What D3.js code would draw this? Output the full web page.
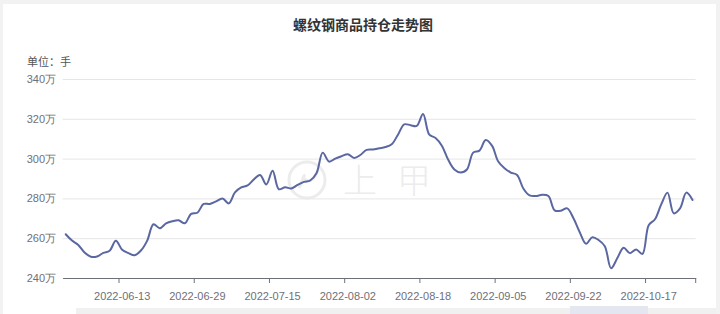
<!DOCTYPE html>
<html>
<head>
<meta charset="utf-8">
<script src="https://cdn.jsdelivr.net/npm/d3@7"></script>
<style>
  html, body { margin: 0; padding: 0; background: #f2f2f2; }
  svg { display: block; font-family: "Noto Sans CJK SC", "Noto Sans", sans-serif; }
</style>
</head>
<body>
<div class="box"></div>
<script>
// trading days (category axis)
const dates = [
  '2022-05-30','2022-05-31',
  '2022-06-01','2022-06-02','2022-06-06','2022-06-07','2022-06-08','2022-06-09','2022-06-10',
  '2022-06-13','2022-06-14','2022-06-15','2022-06-16','2022-06-17','2022-06-20','2022-06-21',
  '2022-06-22','2022-06-23','2022-06-24','2022-06-27','2022-06-28','2022-06-29','2022-06-30',
  '2022-07-01','2022-07-04','2022-07-05','2022-07-06','2022-07-07','2022-07-08','2022-07-11',
  '2022-07-12','2022-07-13','2022-07-14','2022-07-15','2022-07-18','2022-07-19','2022-07-20',
  '2022-07-21','2022-07-22','2022-07-25','2022-07-26','2022-07-27','2022-07-28','2022-07-29',
  '2022-08-01','2022-08-02','2022-08-03','2022-08-04','2022-08-05','2022-08-08','2022-08-09',
  '2022-08-10','2022-08-11','2022-08-12','2022-08-15','2022-08-16','2022-08-17','2022-08-18',
  '2022-08-19','2022-08-22','2022-08-23','2022-08-24','2022-08-25','2022-08-26','2022-08-29',
  '2022-08-30','2022-08-31','2022-09-01','2022-09-02','2022-09-05','2022-09-06','2022-09-07',
  '2022-09-08','2022-09-09','2022-09-13','2022-09-14','2022-09-15','2022-09-16','2022-09-19',
  '2022-09-20','2022-09-21','2022-09-22','2022-09-23','2022-09-26','2022-09-27','2022-09-28',
  '2022-09-29','2022-09-30','2022-10-10','2022-10-11','2022-10-12','2022-10-13','2022-10-14',
  '2022-10-17','2022-10-18','2022-10-19','2022-10-20','2022-10-21','2022-10-24','2022-10-25',
  '2022-10-26'
];

// 持仓 (万手)
const holdings = [
  262.0, 258.8, 256.6, 252.8, 250.7, 250.8, 252.6, 253.7, 258.7, 254.2,
  252.5, 251.4, 253.8, 258.8, 267.0, 265.0, 267.4, 268.5, 269.0, 267.5,
  272.2, 272.8, 277.2, 277.2, 278.5, 280.0, 277.5, 283.0, 285.5, 286.5,
  289.5, 291.8, 287.0, 293.9, 284.6, 285.6, 285.0, 286.8, 288.3, 289.0,
  292.6, 303.0, 298.5, 300.0, 301.2, 302.2, 300.3, 301.8, 304.4, 304.6,
  305.2, 305.8, 307.2, 312.0, 317.2, 316.8, 316.4, 322.4, 312.0, 310.4,
  306.5, 299.5, 294.5, 293.0, 294.5, 303.0, 304.0, 309.3, 306.5, 298.5,
  295.2, 293.0, 291.8, 285.0, 281.5, 281.2, 281.8, 281.2, 274.0, 273.8,
  275.0, 270.0, 263.0, 257.2, 260.5, 259.1, 256.0, 244.9, 250.0, 255.2,
  252.5, 254.3, 252.1, 266.5, 269.5, 277.0, 282.9, 272.5, 275.0, 282.9,
  279.2
];

const xLabels = ['2022-06-13','2022-06-29','2022-07-15','2022-08-02','2022-08-18','2022-09-05','2022-09-22','2022-10-17'];
const yTicks = [240, 260, 280, 300, 320, 340];

const svg = d3.select('.box')
              .append('svg')
              .attr('width', 720)
              .attr('height', 314);

// white card + bits of the next block at the bottom
svg.append('rect').attr('x', 3).attr('y', 4).attr('width', 713).attr('height', 310).attr('fill', '#fff');
svg.append('rect').attr('x', 76).attr('y', 308).attr('width', 640).attr('height', 6).attr('fill', '#f0f0f0');
svg.append('rect').attr('x', 570).attr('y', 306).attr('width', 78).attr('height', 8).attr('fill', '#e4e7ef');

const x = d3.scaleBand()
            .domain(dates)
            .range([62.6, 695.7])
            .padding(0);

const y = d3.scaleLinear()
            .domain([240, 340])
            .range([278, 79]);

// title
svg.append('text')
   .attr('x', 363).attr('y', 30)
   .attr('text-anchor', 'middle')
   .style('font-size', '14px').style('font-weight', 'bold')
   .attr('fill', '#333')
   .text('螺纹钢商品持仓走势图');

svg.append('text')
   .attr('x', 27).attr('y', 66)
   .style('font-size', '11px')
   .attr('fill', '#555')
   .text('单位：手');

// watermark
const wm = svg.append('g').attr('fill', 'none').attr('stroke', '#ececec');
wm.append('circle').attr('cx', 307).attr('cy', 180).attr('r', 18).attr('stroke-width', 3);
wm.append('path').attr('d', 'M299 188 Q307 170 303 178 Q312 186 318 170').attr('stroke-width', 3);
svg.append('text').attr('x', 360).attr('y', 193).attr('text-anchor', 'middle')
   .style('font-size', '34px').style('font-weight', '300').attr('fill', '#ececec').text('上');
svg.append('text').attr('x', 414).attr('y', 193).attr('text-anchor', 'middle')
   .style('font-size', '34px').style('font-weight', '300').attr('fill', '#ececec').text('甲');

// y axis with grid
const axeY = d3.axisLeft(y)
               .tickValues(yTicks)
               .tickSize(-(695.7 - 62.6))
               .tickPadding(6.5)
               .tickFormat(d => d + '万');

const groupeY = svg.append('g')
                   .attr('transform', 'translate(62.6, 0)')
                   .call(axeY);
groupeY.select('.domain').remove();
groupeY.selectAll('line').attr('stroke', '#e6e6e6');
groupeY.selectAll('text').attr('fill', '#6e7079').style('font-size', '11px');

// x axis: labels centred in bands, ticks on band edges
const axeX = d3.axisBottom(x)
               .tickValues(xLabels)
               .tickSize(0)
               .tickSizeOuter(0)
               .tickPadding(14);

const groupeX = svg.append('g')
                   .attr('transform', 'translate(0, 278)')
                   .call(axeX);
groupeX.select('.domain').attr('stroke', '#6e7079');
groupeX.selectAll('text').attr('fill', '#6e7079').style('font-size', '11px');

groupeX.selectAll('.edge')
       .data(xLabels.map(d => x(d)).concat([x.range()[1]]))
       .enter()
       .append('line')
       .attr('class', 'edge')
       .attr('x1', d => d).attr('x2', d => d)
       .attr('y1', 0).attr('y2', 5)
       .attr('stroke', '#6e7079');

// line
const valueLine = d3.line()
                    .x((d, i) => x(dates[i]) + x.bandwidth() / 2)
                    .y(d => y(d))
                    .curve(d3.curveCatmullRom.alpha(0.5));

svg.append('path')
   .attr('d', valueLine(holdings))
   .attr('fill', 'none')
   .attr('stroke', '#5a67a0')
   .attr('stroke-width', 2)
   .attr('stroke-linejoin', 'round')
   .attr('stroke-linecap', 'round');
</script>
</body>
</html>
